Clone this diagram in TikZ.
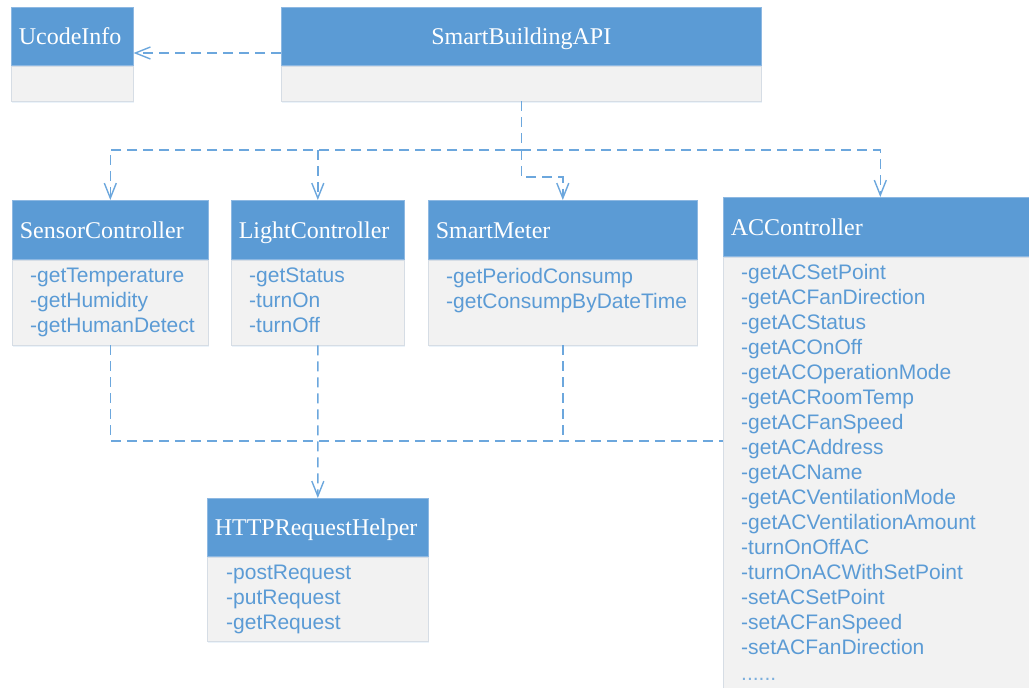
\documentclass[tikz,border=0pt]{standalone}
\usepackage{fontspec}
\setmainfont{Liberation Serif}
\setsansfont{Liberation Sans}
\usetikzlibrary{arrows.meta,calc,shadows}
\definecolor{hdr}{HTML}{5B9BD5}
\definecolor{hdrline}{HTML}{8DB8E2}
\definecolor{bodyfill}{HTML}{F2F2F2}
\definecolor{bodyline}{HTML}{D6DDE5}
\definecolor{itemc}{HTML}{5B9BD5}
\definecolor{connc}{HTML}{6CA7DD}
\begin{document}
\begin{tikzpicture}[x=1pt,y=-1pt,
  hd/.style={draw=hdrline, fill=hdr, line width=0.6pt, anchor=north west,
    inner xsep=7.5pt, inner ysep=0pt, text=white, align=left,
    text height=16.5pt, text depth=0pt,
    font=\fontsize{24}{27}\selectfont},
  bd/.style={draw=bodyline, fill=bodyfill, line width=0.8pt, anchor=north west,
    inner sep=0pt,
    drop shadow={opacity=0.12, shadow xshift=0.5pt, shadow yshift=-2pt, fill=hdr}},
  items/.style={anchor=north west, inner sep=0pt, text=itemc, align=left,
    font=\sffamily\fontsize{21}{25}\selectfont},
  conn/.style={draw=connc, line width=1.5pt, dash pattern=on 10pt off 6pt},
  arr/.style={-{Straight Barb[length=15pt,width=12pt,line width=1.4pt]}}
]
\useasboundingbox (0,0) rectangle (1029,688);
\clip (0,0) rectangle (1029,688);

% UcodeInfo
\node[hd, minimum width=122, minimum height=58, text width=107] (ucode) at (11,7) {UcodeInfo};
\node[bd, minimum width=122, minimum height=35] (ucodeb) at (ucode.south west) {};

% SmartBuildingAPI
\node[hd, minimum width=480, minimum height=58, text width=465, align=center] (api) at (281,7) {SmartBuildingAPI};
\node[bd, minimum width=480, minimum height=35] (apib) at (api.south west) {};

% SensorController
\node[hd, minimum width=196, minimum height=59, text width=181] (sensor) at (12,200) {SensorController};
\node[bd, minimum width=196, minimum height=85] (sensorb) at (sensor.south west) {};
\node[items] (sensori) at ($(sensorb.north west)+(18,8)$) {-getTemperature\\-getHumidity\\-getHumanDetect};

% LightController
\node[hd, minimum width=173, minimum height=59, text width=158] (light) at (231,200) {LightController};
\node[bd, minimum width=173, minimum height=85] (lightb) at (light.south west) {};
\node[items] (lighti) at ($(lightb.north west)+(18,8)$) {-getStatus\\-turnOn\\-turnOff};

% SmartMeter
\node[hd, minimum width=269, minimum height=59, text width=254] (meter) at (428,200) {SmartMeter};
\node[bd, minimum width=269, minimum height=85] (meterb) at (meter.south west) {};
\node[items] (meteri) at ($(meterb.north west)+(18,8)$) {-getPeriodConsump\\-getConsumpByDateTime};

% ACController
\node[hd, minimum width=314, minimum height=59, text width=299] (ac) at (723,197) {ACController};
\node[bd, minimum width=314, minimum height=460] (acb) at (ac.south west) {};
\node[items] (aci) at ($(acb.north west)+(18,7)$) {-getACSetPoint\\-getACFanDirection\\-getACStatus\\-getACOnOff\\-getACOperationMode\\-getACRoomTemp\\-getACFanSpeed\\-getACAddress\\-getACName\\-getACVentilationMode\\-getACVentilationAmount\\-turnOnOffAC\\-turnOnACWithSetPoint\\-setACSetPoint\\-setACFanSpeed\\-setACFanDirection\\[1pt]{\color{itemc!80!white}......}};

% HTTPRequestHelper
\node[hd, minimum width=221, minimum height=58, text width=206] (http) at (207,498) {HTTPRequestHelper};
\node[bd, minimum width=221, minimum height=84] (httpb) at (http.south west) {};
\node[items] (httpi) at ($(httpb.north west)+(19,8)$) {-postRequest\\-putRequest\\-getRequest};

% connectors
\coordinate (bus) at (apib.south |- 0,150);
\coordinate (low) at (acb.west |- 0,441);

\draw[conn,arr] (api.west |- 0,53) -- (ucode.east |- 0,53);
\draw[conn] (apib.south) -- (bus);
\draw[conn,arr] (bus) -| (sensor.north);
\draw[conn,arr] (light.north |- bus) -- (light.north);
\draw[conn,arr] (bus) -| (ac.north);
\draw[conn,arr] (bus) -- ($(bus)+(0,27)$) -| (meter.north);

\draw[conn] (sensorb.south) |- (low);
\draw[conn] (meterb.south) -- (meterb.south |- low);
\draw[conn,arr] (lightb.south) -- (http.north);
\end{tikzpicture}
\end{document}
